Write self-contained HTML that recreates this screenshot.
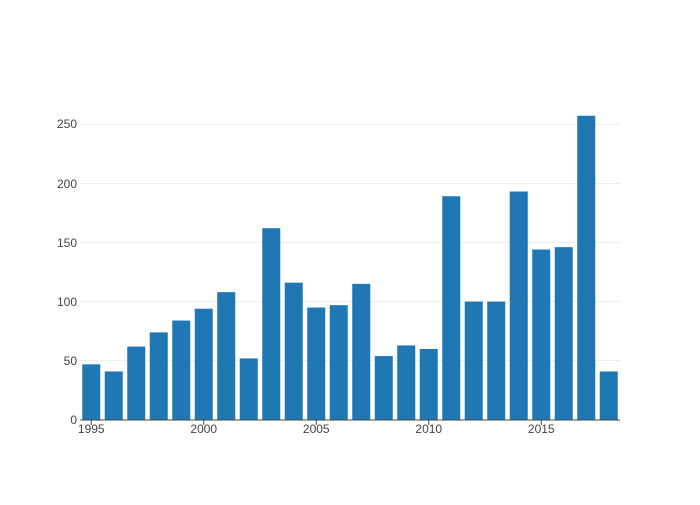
<!DOCTYPE html>
<html><head><meta charset="utf-8"><style>
html,body{margin:0;padding:0;background:#fff;}
text{font-family:"Liberation Sans",sans-serif;font-size:12px;fill:#444;}
</style></head><body>
<svg width="700" height="500" xmlns="http://www.w3.org/2000/svg">
<g stroke="#eee" stroke-width="1">
<line x1="80" x2="620" y1="124.5" y2="124.5"/>
<line x1="80" x2="620" y1="183.5" y2="183.5"/>
<line x1="80" x2="620" y1="242.5" y2="242.5"/>
<line x1="80" x2="620" y1="301.5" y2="301.5"/>
<line x1="80" x2="620" y1="360.5" y2="360.5"/>
</g>
<g fill="#1f77b4" id="bars"></g>
<line x1="80" x2="620" y1="420" y2="420" stroke="#444" stroke-width="1"/>
<g text-anchor="end">
<text x="77" y="424">0</text>
<text x="77" y="365">50</text>
<text x="77" y="306">100</text>
<text x="77" y="247">150</text>
<text x="77" y="188">200</text>
<text x="77" y="128">250</text>
</g>
<g stroke="#444" stroke-width="1">
<line x1="91.25" x2="91.25" y1="420" y2="425"/>
<line x1="203.75" x2="203.75" y1="420" y2="425"/>
<line x1="316.25" x2="316.25" y1="420" y2="425"/>
<line x1="428.75" x2="428.75" y1="420" y2="425"/>
<line x1="541.25" x2="541.25" y1="420" y2="425"/>
</g>
<g text-anchor="middle">
<text x="91.25" y="433">1995</text>
<text x="203.75" y="433">2000</text>
<text x="316.25" y="433">2005</text>
<text x="428.75" y="433">2010</text>
<text x="541.25" y="433">2015</text>
</g>
</svg>
<script>
var v=[47,41,62,74,84,94,108,52,162,116,95,97,115,54,63,60,189,100,100,193,144,146,257,41];
var g=document.getElementById('bars'),s='';
v.forEach(function(d,i){var h=d*320/270.3;s+='<rect x="'+(80+i*22.5+2.25)+'" y="'+(420-h)+'" width="18" height="'+h+'"/>';});
g.innerHTML=s;
</script>
</body></html>
